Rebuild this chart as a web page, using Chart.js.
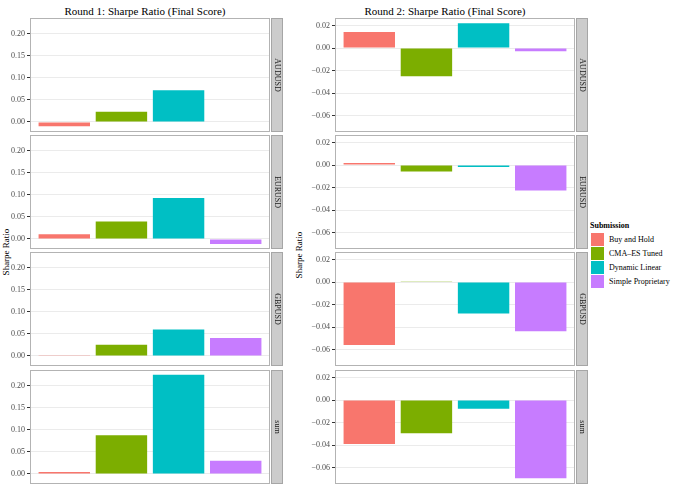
<!DOCTYPE html>
<html>
<head>
<meta charset="utf-8">
<script src="https://cdn.jsdelivr.net/npm/chart.js@4.4.1/dist/chart.umd.min.js"></script>
<style>
    body { margin: 0; background: #fff; }
    #wrap { position: relative; width: 673px; height: 489px; overflow: hidden; font-family: "Liberation Serif", serif; }
    canvas { position: absolute; }
    .title { position: absolute; font-size: 11px; color: #000; white-space: nowrap; transform: translateX(-50%); }
    .ylab { position: absolute; font-size: 9px; color: #000; white-space: nowrap; transform: translate(-50%, -50%) rotate(-90deg); }
    #legend { position: absolute; left: 590px; top: 219px; font-size: 8px; color: #000; }
    #legend .head { font-weight: bold; height: 13px; line-height: 13px; }
    #legend .row { height: 14px; display: flex; align-items: center; }
    #legend .key { width: 13px; height: 13px; margin-right: 4px; border: 0.5px solid #fff; }
</style>
</head>
<body>
<div id="wrap">
    <div class="title" style="left:145px; top:5px;">Round 1: Sharpe Ratio (Final Score)</div>
    <div class="title" style="left:445px; top:5px;">Round 2: Sharpe Ratio (Final Score)</div>
    <div class="ylab" style="left:6px; top:252px;">Sharpe Ratio</div>
    <div class="ylab" style="left:299px; top:255px;">Sharpe Ratio</div>
    <div id="legend"></div>
</div>

<script>
const submissions = ['Buy and Hold', 'CMA-ES Tuned', 'Dynamic Linear', 'Simple Proprietary'];
const barColors = ['#F8766D', '#7CAE00', '#00BFC4', '#C77CFF'];
const facets = ['AUDUSD', 'EURUSD', 'GBPUSD', 'sum'];

// round 1 (left column)
const r1AUDUSD = [-0.010, 0.023, 0.072, null];
const r1EURUSD = [0.0105, 0.0395, 0.093, -0.0114];
const r1GBPUSD = [0.0015, 0.025, 0.060, 0.0405];
const r1Sum = [0.0045, 0.088, 0.225, 0.030];
const r1Ticks = [0, 0.05, 0.10, 0.15, 0.20];

// round 2 (right column)
const r2AUDUSD = [0.0144, -0.025, 0.0221, -0.0027];
const r2EURUSD = [0.0018, -0.0057, -0.0018, -0.0227];
const r2GBPUSD = [-0.056, 0.0003, -0.028, -0.0437];
const r2Sum = [-0.039, -0.0295, -0.0076, -0.0695];
const r2Ticks = [-0.06, -0.04, -0.02, 0, 0.02];

const panelTops = [18, 135.2, 252.4, 369.6];
const panelH = 114;

/*---------strip + border-----------*/
const facetDecor = {
    id: 'facetDecor',
    afterDraw(chart, args, opts) {
        const c = chart.ctx;
        const a = chart.chartArea;
        c.save();
        c.strokeStyle = '#b3b3b3';
        c.lineWidth = 1;
        c.strokeRect(Math.round(a.left) + 0.5, Math.round(a.top) + 0.5, Math.round(a.right - a.left) - 1, Math.round(a.bottom - a.top) - 1);
        const sx = Math.round(a.right) + 1;
        c.fillStyle = '#cccccc';
        c.fillRect(sx, a.top, 12, a.bottom - a.top);
        c.strokeStyle = '#a6a6a6';
        c.strokeRect(sx + 0.5, a.top + 0.5, 11, a.bottom - a.top - 1);
        c.translate(sx + 6, (a.top + a.bottom) / 2);
        c.rotate(Math.PI / 2);
        c.fillStyle = '#1a1a1a';
        c.font = '8px "Liberation Serif", serif';
        c.textAlign = 'center';
        c.textBaseline = 'middle';
        c.fillText(opts.label, 0, 0);
        c.restore();
    }
};

function fmt(v) {
    let s = Math.abs(v).toFixed(2);
    return v < -1e-9 ? '\u2212' + s : s;
}

function makePanel(left, top, axisW, values, ticks, yMin, yMax, label) {
    const canvas = document.createElement('canvas');
    canvas.width = axisW + 240 + 14;
    canvas.height = panelH;
    canvas.style.left = left + 'px';
    canvas.style.top = top + 'px';
    document.getElementById('wrap').appendChild(canvas);

    const pts = values.map((v, i) => ({ x: i + 1, y: v })).filter(p => p.y !== null);
    const cols = values.map((v, i) => barColors[i]).filter((c, i) => values[i] !== null);

    new Chart(canvas.getContext('2d'), {
        type: 'bar',
        data: {
            datasets: [{
                data: pts,
                backgroundColor: cols,
                borderWidth: 0,
                barPercentage: 0.9,
                categoryPercentage: 1.0
            }]
        },
        options: {
            responsive: false,
            animation: false,
            events: [],
            layout: { padding: { left: 0, right: 14, top: 0, bottom: 0 } },
            plugins: {
                legend: { display: false },
                tooltip: { enabled: false },
                facetDecor: { label: label }
            },
            scales: {
                x: {
                    type: 'linear',
                    min: 0.4,
                    max: 4.6,
                    offset: false,
                    display: false,
                    afterBuildTicks: (s) => { s.ticks = submissions.map((n, i) => ({ value: i + 1 })); }
                },
                y: {
                    min: yMin,
                    max: yMax,
                    afterFit: (s) => { s.width = axisW; s.paddingTop = 0; s.paddingBottom = 0; },
                    afterBuildTicks: (s) => { s.ticks = ticks.map(v => ({ value: v })); },
                    border: { display: false },
                    grid: { color: '#ebebeb', tickColor: '#333333', tickLength: 3, lineWidth: 1 },
                    ticks: {
                        padding: 2,
                        color: '#4d4d4d',
                        font: { family: '"Liberation Serif", serif', size: 8 },
                        callback: (v) => fmt(v)
                    }
                }
            }
        },
        plugins: [facetDecor]
    });
}

const r1Data = [r1AUDUSD, r1EURUSD, r1GBPUSD, r1Sum];
const r2Data = [r2AUDUSD, r2EURUSD, r2GBPUSD, r2Sum];

for (let i = 0; i < facets.length; i++) {
    makePanel(0, panelTops[i], 30, r1Data[i], r1Ticks, -0.023, 0.236, facets[i]);
    makePanel(300, panelTops[i], 35, r2Data[i], r2Ticks, -0.0747, 0.0268, facets[i]);
}

/*---------legend-----------*/
let html = '<div class="head">Submission</div>';
submissions.forEach((s, i) => {
    html += '<div class="row"><div class="key" style="background:' + barColors[i] + '"></div>' + s.replace('-', '\u2013') + '</div>';
});
document.getElementById('legend').innerHTML = html;
</script>
</body>
</html>
